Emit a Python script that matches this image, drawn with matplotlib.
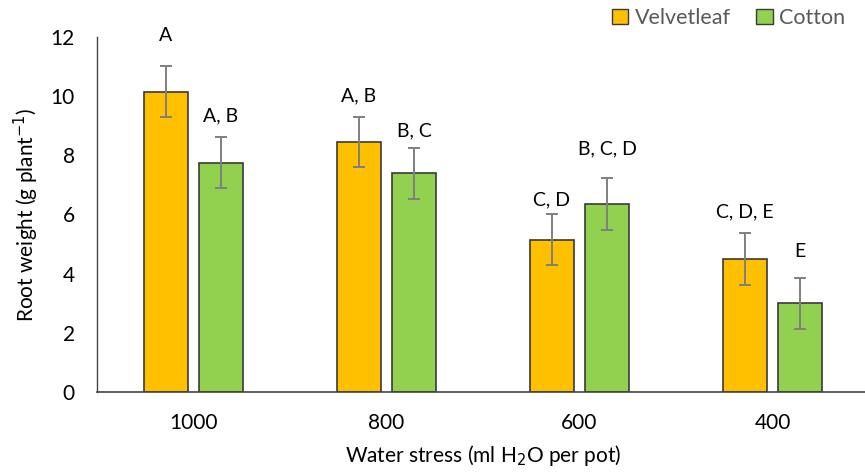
import numpy as np
import matplotlib.pyplot as plt
from matplotlib.patches import Patch

plt.rcParams["font.family"] = ["Lato", "DejaVu Sans"]

# root weight by watering level (g per plant)
stress_levels = ["1000", "800", "600", "400"]
velvetleaf = [10.15, 8.45, 5.15, 4.50]
cotton = [7.75, 7.40, 6.35, 3.00]
velvetleaf_err = [0.87, 0.86, 0.87, 0.87]
cotton_err = [0.87, 0.86, 0.87, 0.86]
velvetleaf_letters = ["A", "A, B", "C, D", "C, D, E"]
cotton_letters = ["A, B", "B, C", "B, C, D", "E"]

# gap between error cap and letter label, in points
velvetleaf_pad = [16, 9, 4, 9]
cotton_pad = [9, 6, 15, 13]

ORANGE = "#FFC000"
GREEN = "#92D050"
EDGE = "#3a3a3a"
ERR = "#7f7f7f"

fig = plt.figure(figsize=(8.65, 4.72), dpi=100)
ax = fig.add_axes([97 / 865, 80 / 472, 772 / 865, 355 / 472])

x = np.arange(len(stress_levels))
width = 0.225
offset = 0.1425

ax.bar(x - offset, velvetleaf, width, color=ORANGE, edgecolor=EDGE, linewidth=1.2,
       yerr=velvetleaf_err, error_kw=dict(ecolor=ERR, elinewidth=1.4, capsize=4, capthick=1.4),
       zorder=2)
ax.bar(x + offset, cotton, width, color=GREEN, edgecolor=EDGE, linewidth=1.2,
       yerr=cotton_err, error_kw=dict(ecolor=ERR, elinewidth=1.4, capsize=4, capthick=1.4),
       zorder=2)

for i in range(len(x)):
    ax.annotate(velvetleaf_letters[i], (x[i] - offset, velvetleaf[i] + velvetleaf_err[i]),
                xytext=(0, velvetleaf_pad[i]), textcoords="offset points",
                ha="center", va="bottom", fontsize=14)
    ax.annotate(cotton_letters[i], (x[i] + offset, cotton[i] + cotton_err[i]),
                xytext=(0, cotton_pad[i]), textcoords="offset points",
                ha="center", va="bottom", fontsize=14)

ax.set_xlim(-0.5, 3.5)
ax.set_ylim(0, 12)
ax.set_yticks(range(0, 13, 2))
ax.set_xticks(x)
ax.set_xticklabels(stress_levels)
ax.tick_params(axis="both", length=0, labelsize=15)
ax.tick_params(axis="y", pad=16)
ax.tick_params(axis="x", pad=15)

for side in ["top", "right"]:
    ax.spines[side].set_visible(False)
ax.spines["left"].set_color("#444444")
ax.spines["bottom"].set_color("#444444")
ax.spines["left"].set_linewidth(1.0)
ax.spines["bottom"].set_linewidth(1.2)

ax.set_ylabel("Root weight (g plant$^{-1}$)", fontsize=15, labelpad=7)
ax.set_xlabel("Water stress (ml H$_2$O per pot)", fontsize=15, labelpad=7)

handles = [Patch(facecolor=ORANGE, edgecolor=EDGE, label="Velvetleaf"),
           Patch(facecolor=GREEN, edgecolor=EDGE, label="Cotton")]
leg = fig.legend(handles=handles, loc="center left", bbox_to_anchor=(612 / 865, 1 - 18 / 472),
                 ncol=2, frameon=False, fontsize=15.5, handlelength=0.75, handleheight=0.75,
                 handletextpad=0.3, columnspacing=1.2, borderaxespad=0, borderpad=0)
for t in leg.get_texts():
    t.set_color("#595959")

fig.savefig("out.png", dpi=100)
